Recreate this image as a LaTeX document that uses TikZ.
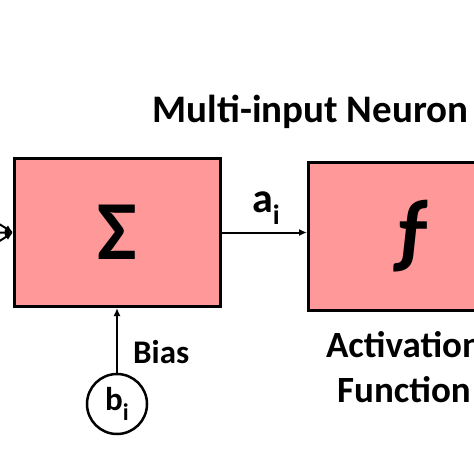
\documentclass[tikz,border=0pt]{standalone}
\usepackage{fontspec}
\setmainfont{Carlito}
\usetikzlibrary{arrows.meta,positioning}
\definecolor{boxpink}{RGB}{255,153,153}
\newcommand{\lowi}[1]{\raisebox{-0.3em}{\fontsize{#1}{#1}\selectfont i}}
\begin{document}
\begin{tikzpicture}[x=1pt,y=-1pt,
  block/.style={draw=black, line width=3pt, fill=boxpink, minimum width=206pt, minimum height=148pt, inner sep=0pt, font=\bfseries\fontsize{84}{90}\selectfont},
  link/.style={-{Latex[length=8pt,width=7pt]}, line width=2pt},
  lbl/.style={font=\bfseries\fontsize{33}{38}\selectfont, inner sep=0pt}]
\useasboundingbox (0,0) rectangle (474,474);
\clip (0,0) rectangle (474,474);
% blocks
\node[block] (sum) at (117.5,232.5) {\raisebox{-3pt}{Σ}};
\node[block] (act) at (411.5,236) {ƒ};
\node[draw, circle, line width=2.5pt, minimum size=60pt, inner sep=0pt, lbl] (bias) at (117,404) {b\lowi{24}};
% inputs from the left
\coordinate (in1) at (-40,200);
\coordinate (in2) at (-40,233);
\coordinate (in3) at (-40,266);
\foreach \c in {in1,in2,in3}
  \draw[link] (\c) -- (sum.west);
% connectors
\draw[link] (sum.east) -- (sum.east -| act.west);
\draw[link] (bias.north) -- (bias.north |- sum.south);
% texts
\node[lbl, font=\bfseries\fontsize{39}{42}\selectfont, anchor=base] (title) at (310.5,122) {Multi-input Neuron};
\node[lbl, font=\bfseries\fontsize{42}{44}\selectfont, anchor=base] (alab) at (266,212) {a\lowi{28}};
\node[lbl, anchor=base west] (blab) at (133,363) {Bias};
\node[lbl, font=\bfseries\fontsize{37}{45}\selectfont, align=center, anchor=north] (flab) at (404,331) {Activation\\Function};
\end{tikzpicture}
\end{document}
